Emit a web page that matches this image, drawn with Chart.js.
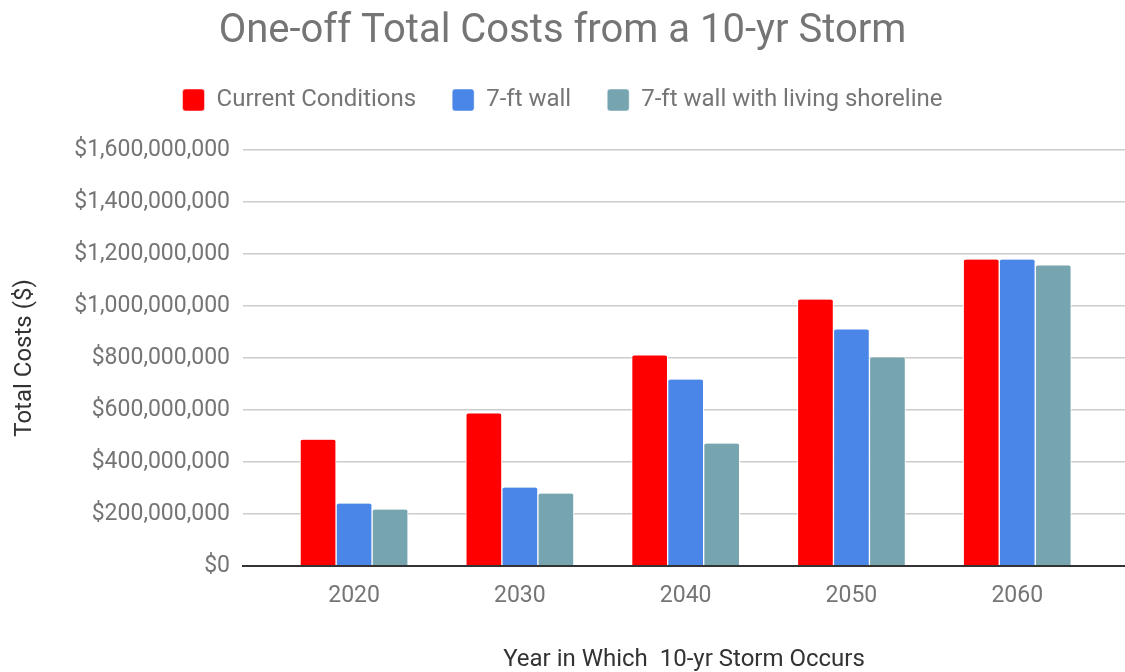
<!DOCTYPE html>
<html>
<head>
<meta charset="utf-8">
<script src="https://cdn.jsdelivr.net/npm/chart.js@4.4.1/dist/chart.umd.min.js"></script>
<style>
  html, body { margin: 0; padding: 0; background: #fff; }
  #wrap { width: 1125px; height: 672px; }
</style>
</head>
<body>
<div id="wrap"><canvas id="graficoCostos" width="1125" height="672"></canvas></div>
<script>
  const years = [2020, 2030, 2040, 2050, 2060];
  const currentConditions = [486e6, 587e6, 810e6, 1025e6, 1179e6];
  const wall7ft = [240e6, 302e6, 717e6, 910e6, 1179e6];
  const wallShoreline = [217e6, 279e6, 471e6, 802e6, 1156e6];
  const yTicks = [0, 2e8, 4e8, 6e8, 8e8, 10e8, 12e8, 14e8, 16e8];

  const gris = '#757575';
  const fuente = 'Roboto, "Open Sans", sans-serif';

  function serie(label, values, color) {
    return {
      label: label,
      data: years.map((y, i) => ({ x: y, y: values[i] })),
      backgroundColor: color,
      borderColor: '#ffffff',
      borderWidth: { left: 1, right: 1, top: 0, bottom: 0 },
      borderRadius: 3,
      borderSkipped: 'bottom',
      barThickness: 36
    };
  }

  // deja mas aire entre la leyenda y el grafico
  const espacioLeyenda = {
    id: 'espacioLeyenda',
    beforeInit(chart) {
      const fitOriginal = chart.legend.fit;
      chart.legend.fit = function () {
        fitOriginal.bind(chart.legend)();
        this.height += 28;
      };
    }
  };

  const graficoCostos = document.getElementById('graficoCostos');

  new Chart(graficoCostos, {
    type: 'bar',
    data: {
      datasets: [
        serie('Current Conditions', currentConditions, '#ff0000'),
        serie('7-ft wall', wall7ft, '#4a86e8'),
        serie('7-ft wall with living shoreline', wallShoreline, '#76a5af')
      ]
    },
    plugins: [espacioLeyenda],
    options: {
      responsive: false,
      animation: false,
      plugins: {
        tooltip: { enabled: false },
        title: {
          display: true,
          text: 'One-off Total Costs from a 10-yr Storm',
          color: gris,
          font: { family: fuente, size: 40, weight: 'normal', lineHeight: 1 },
          padding: { top: 12, bottom: 0 }
        },
        legend: {
          display: true,
          labels: {
            color: gris,
            font: { family: fuente, size: 24 },
            boxWidth: 22,
            boxHeight: 22,
            useBorderRadius: true,
            borderRadius: 3,
            padding: 36
          }
        }
      },
      scales: {
        x: {
          type: 'linear',
          offset: false,
          min: 2013.3,
          max: 2066.5,
          afterBuildTicks: scale => { scale.ticks = years.map(v => ({ value: v })); },
          afterFit: scale => { scale.height = 106; },
          grid: { display: false, drawTicks: false, offset: false },
          border: { display: true, color: '#333333', width: 2 },
          ticks: {
            color: gris,
            font: { family: fuente, size: 23 },
            padding: 16,
            callback: v => String(v)
          },
          title: {
            display: true,
            text: 'Year in Which  10-yr Storm Occurs',
            color: '#333333',
            font: { family: fuente, size: 24, lineHeight: 1 },
            padding: { top: 10, bottom: 0 }
          }
        },
        y: {
          min: 0,
          max: 1.6e9,
          afterBuildTicks: scale => { scale.ticks = yTicks.map(v => ({ value: v })); },
          afterFit: scale => { scale.width = 243; },
          grid: {
            color: ctx => ctx.tick && ctx.tick.value === 0 ? '#333333' : '#cccccc',
            lineWidth: ctx => ctx.tick && ctx.tick.value === 0 ? 2 : 1.5,
            drawTicks: false
          },
          border: { display: false },
          ticks: {
            color: gris,
            font: { family: fuente, size: 23 },
            padding: 13,
            callback: v => '$' + Number(v).toLocaleString('en-US')
          },
          title: {
            display: true,
            text: 'Total Costs ($)',
            color: '#333333',
            font: { family: fuente, size: 24 },
            padding: { top: 11, bottom: 0 }
          }
        }
      }
    }
  });
</script>
</body>
</html>
